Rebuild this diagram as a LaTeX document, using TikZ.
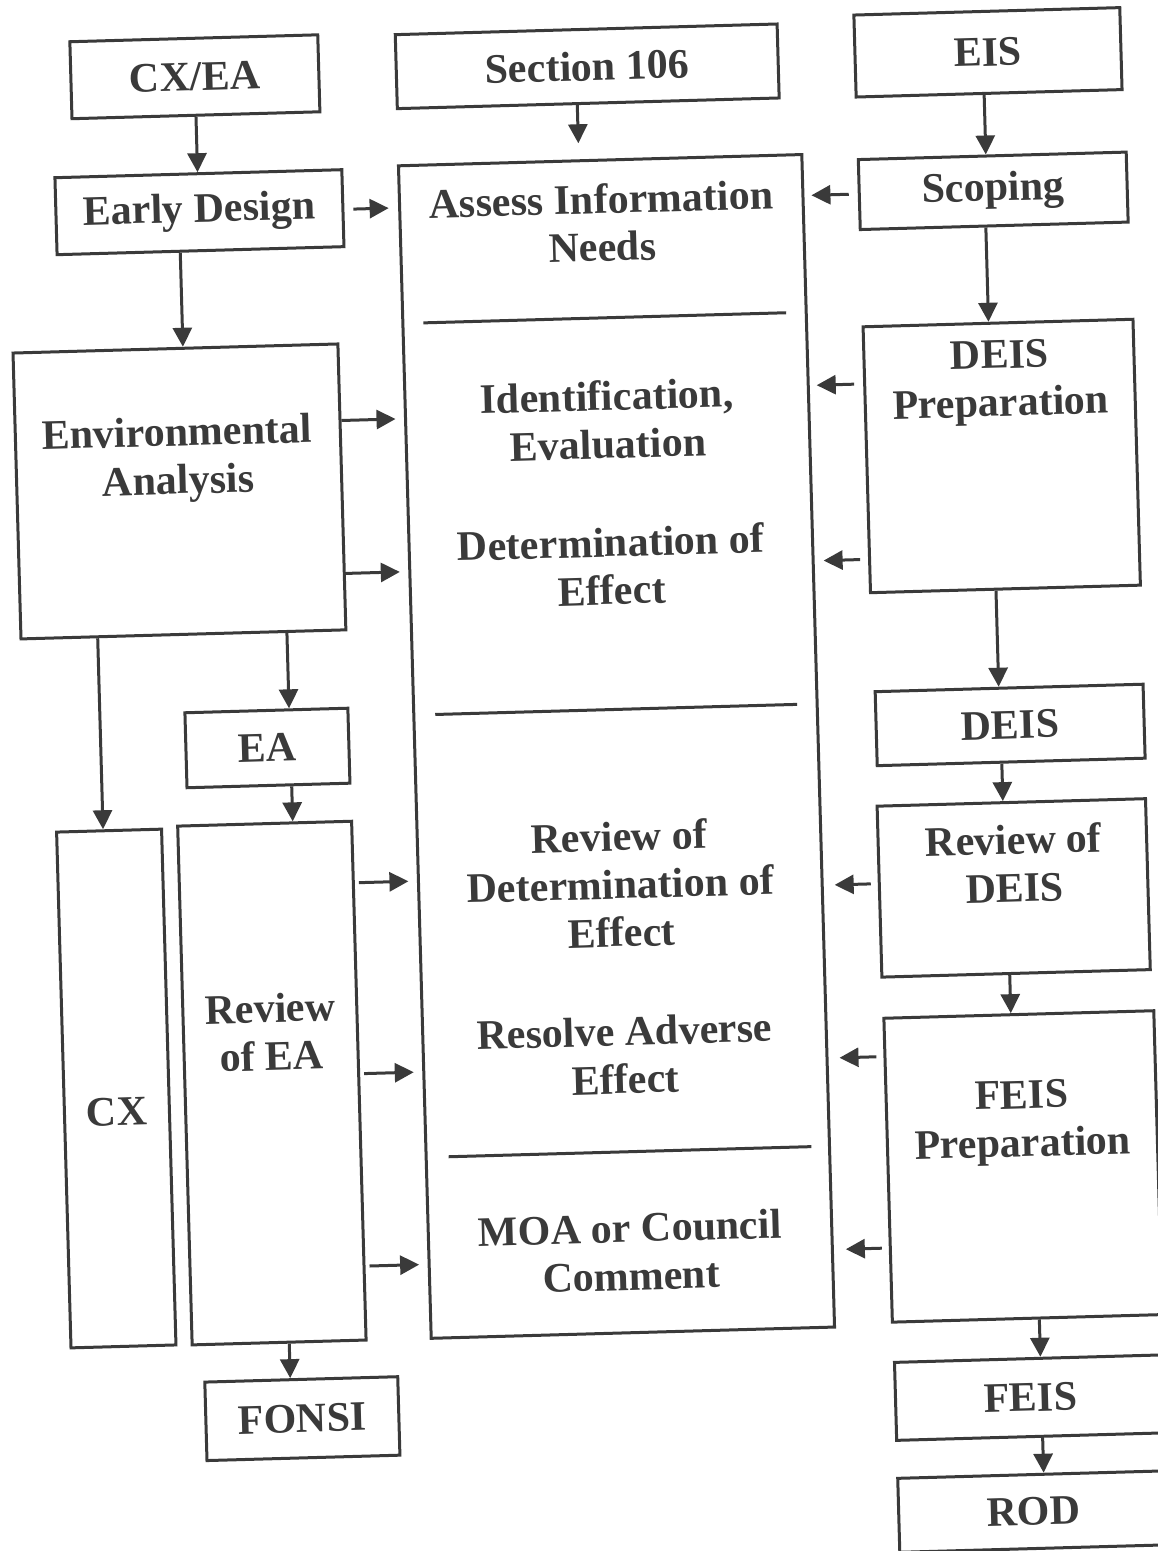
\documentclass[tikz,border=0pt]{standalone}
\usepackage{fontspec}
\setmainfont{Liberation Serif}
\usetikzlibrary{arrows.meta}
\definecolor{ink}{RGB}{58,58,58}
\newcommand{\boxfont}{\bfseries\fontsize{21}{24}\selectfont}
\begin{document}
\begin{tikzpicture}[x=0.5pt,y=-0.5pt,
  box/.style={draw=ink, line width=1.5pt, inner sep=0pt, transform shape, align=center, font=\boxfont, text=ink},
  lbl/.style={inner sep=0pt, transform shape, align=center, font=\boxfont, text=ink},
  arr/.style={draw=ink, line width=1.5pt, -{Triangle[length=9.5pt,width=9.5pt]}},
  divider/.style={draw=ink, line width=1.5pt}]
\useasboundingbox (0,0) rectangle (1157,1551);
\begin{scope}[rotate around={1.6:(578.5,775.5)}]
% top row
\node[box, minimum width=124pt, minimum height=38.5pt] (cxea) at (214.5,66.3) {CX/EA};
\node[box, minimum width=191pt, minimum height=37pt] (sec) at (607,66.8) {Section 106};
\node[box, minimum width=133pt, minimum height=41pt] (eis) at (1008,64) {EIS};
% second row
\node[box, minimum width=143.5pt, minimum height=38.5pt] (ed) at (215.3,201.8) {Early Design};
\node[box, minimum width=134pt, minimum height=35pt] (scop) at (1009.4,202.6) {Scoping};
% central box
\node[box, minimum width=201.75pt, minimum height=586.5pt] (central) at (617.3,747.5) {};
\draw[divider] (436,318.7) -- (799,318.7);
\draw[divider] (437,710.5) -- (799,710.5);
\draw[divider] (438,1153) -- (801,1153);
\node[lbl] (t1) at (617.3,223.6) {Assess Information\\Needs};
\node[lbl] (t2) at (617.3,420.8) {Identification,\\Evaluation};
\node[lbl] (t3) at (617.3,567) {Determination of\\Effect};
\node[lbl] (t4) at (617.3,885.2) {Review of\\Determination of\\Effect};
\node[lbl] (t5) at (617.3,1056.4) {Resolve Adverse\\Effect};
\node[lbl] (t6) at (617.3,1253) {MOA or Council\\Comment};
% left column
\node[box, minimum width=162.5pt, minimum height=143pt] (envan) at (187.5,480.4) {};
\node[lbl] (envt) at (186.8,448.8) {Environmental\\Analysis};
\node[box, minimum width=81.5pt, minimum height=37.5pt] (ea) at (268.3,739.3) {EA};
\node[box, minimum width=52.5pt, minimum height=258pt] (cx) at (107.7,1075.5) {};
\node[lbl] (cxt) at (107.6,1099) {CX};
\node[box, minimum width=87pt, minimum height=259.5pt] (revea) at (263.4,1074.4) {};
\node[lbl] (reveat) at (263.8,1023.4) {Review\\of EA};
\node[box, minimum width=96.5pt, minimum height=39.25pt] (fonsi) at (284.5,1410.7) {FONSI};
% right column
\node[box, minimum width=135pt, minimum height=133pt] (deisprep) at (1010.5,467.9) {};
\node[lbl] (deisprept) at (1011,394.8) {DEIS\\Preparation};
\node[box, minimum width=134pt, minimum height=37pt] (deis) at (1011.4,737) {DEIS};
\node[box, minimum width=134.25pt, minimum height=85.5pt] (revdeis) at (1010.4,900) {};
\node[lbl] (revdeist) at (1011.5,875.7) {Review of\\DEIS};
\node[box, minimum width=135pt, minimum height=152pt] (feisprep) at (1012,1178.7) {};
\node[lbl] (feisprept) at (1012.3,1135.4) {FEIS\\Preparation};
\node[box, minimum width=135pt, minimum height=39pt] (feis) at (1013,1410) {FEIS};
\node[box, minimum width=135pt, minimum height=37pt] (rod) at (1013,1524) {ROD};
% vertical connectors
\draw[arr] (cxea.south -| 214.5,0) -- (ed.north -| 214.5,0);
\draw[arr] (ed.south -| 195,0) -- (envan.north -| 195,0);
\draw[arr, shorten >=8pt] (sec.south -| 596,0) -- (central.north -| 596,0);
\draw[arr] (eis.south -| 1003,0) -- (scop.north -| 1003,0);
\draw[arr] (scop.south -| 1001,0) -- (deisprep.north -| 1001,0);
\draw[arr] (deisprep.south -| 1001,0) -- (deis.north -| 1001,0);
\draw[arr] (deis.south -| 1002,0) -- (revdeis.north -| 1002,0);
\draw[arr] (revdeis.south -| 1004,0) -- (feisprep.north -| 1004,0);
\draw[arr] (feisprep.south -| 1024,0) -- (feis.north -| 1024,0);
\draw[arr] (feis.south -| 1024,0) -- (rod.north -| 1024,0);
\draw[arr] (envan.south -| 291,0) -- (ea.north -| 291,0);
\draw[arr] (envan.south -| 101.7,0) -- (cx.north -| 101.7,0);
\draw[arr] (ea.south -| 291.5,0) -- (revea.north -| 291.5,0);
\draw[arr] (revea.south -| 273.5,0) -- (fonsi.north -| 273.5,0);
% horizontal connectors into the central box
\draw[arr, shorten <=4.5pt, shorten >=4.75pt] (ed.east |- 0,203) -- (central.west |- 0,203);
\draw[arr, shorten >=4.25pt] (envan.east |- 0,414) -- (central.west |- 0,414);
\draw[arr, shorten >=4.25pt] (envan.east |- 0,567) -- (central.west |- 0,567);
\draw[arr, shorten <=2pt, shorten >=4.25pt] (revea.east |- 0,876.5) -- (central.west |- 0,876.5);
\draw[arr, shorten <=2pt, shorten >=4.25pt] (revea.east |- 0,1067.5) -- (central.west |- 0,1067.5);
\draw[arr, shorten <=2pt, shorten >=4.25pt] (revea.east |- 0,1260) -- (central.west |- 0,1260);
\draw[arr, shorten <=4.5pt, shorten >=3.5pt] (scop.west |- 0,202) -- (central.east |- 0,202);
\draw[arr, shorten <=4.5pt, shorten >=3.5pt] (deisprep.west |- 0,392) -- (central.east |- 0,392);
\draw[arr, shorten <=4pt, shorten >=4.5pt] (deisprep.west |- 0,567.5) -- (central.east |- 0,567.5);
\draw[arr, shorten <=3.5pt, shorten >=5.5pt] (revdeis.west |- 0,892) -- (central.east |- 0,892);
\draw[arr, shorten <=3.5pt, shorten >=5.5pt] (feisprep.west |- 0,1065) -- (central.east |- 0,1065);
\draw[arr, shorten <=3.5pt, shorten >=6pt] (feisprep.west |- 0,1256.5) -- (central.east |- 0,1256.5);
\end{scope}
\end{tikzpicture}
\end{document}
